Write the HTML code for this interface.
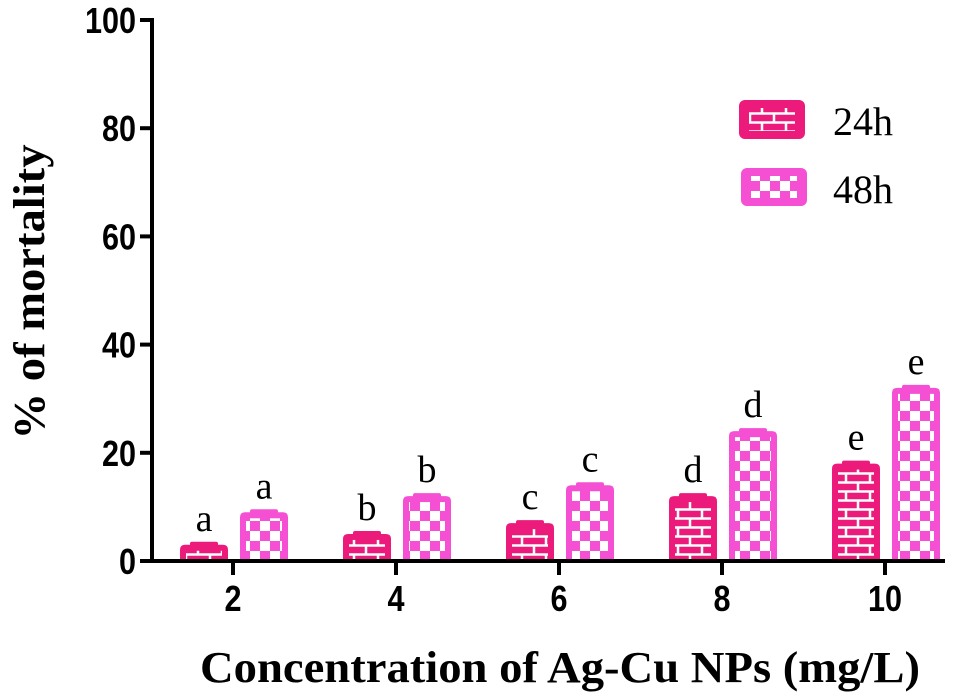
<!DOCTYPE html>
<html><head><meta charset="utf-8"><style>
html,body{margin:0;padding:0;background:#fff;}
svg{display:block;}
</style></head><body>
<svg id="chart" width="975" height="700" viewBox="0 0 975 700" xmlns="http://www.w3.org/2000/svg">
<defs>
<pattern id="brick" patternUnits="userSpaceOnUse" width="24" height="18" x="0" y="561">
<rect width="24" height="18" fill="#ec1a7b"/>
<path d="M0 2.5H24M0 11.5H24M6 2.5V11.5M18 11.5V18M18 0V2.5" stroke="#fff" stroke-width="2.5" fill="none"/>
</pattern>
<pattern id="checker" patternUnits="userSpaceOnUse" width="20" height="20" x="0" y="561">
<rect width="20" height="20" fill="#f550d4"/>
<rect x="0" y="0" width="10" height="10" fill="#fff"/>
<rect x="10" y="10" width="10" height="10" fill="#fff"/>
</pattern>
</defs>
<g id="plot"></g>
<g>
<rect x="739" y="100" width="66" height="39" rx="6" fill="#ec1a7b"/>
<rect x="749" y="108" width="46" height="23" fill="url(#brick)"/>
<text x="833" y="135" font-family="Liberation Serif, serif" font-size="40">24h</text>
<rect x="741" y="168" width="66" height="38" rx="6" fill="#f550d4"/>
<rect x="751" y="176" width="46" height="22" fill="url(#checker)"/>
<text x="833" y="203" font-family="Liberation Serif, serif" font-size="40">48h</text>
</g>
<text x="200" y="682" textLength="720" lengthAdjust="spacingAndGlyphs" font-family="Liberation Serif, serif" font-weight="bold" font-size="44">Concentration of  Ag-Cu NPs (mg/L)</text>
<text transform="translate(44,292) rotate(-90)" text-anchor="middle" textLength="295" lengthAdjust="spacingAndGlyphs" font-family="Liberation Serif, serif" font-weight="bold" font-size="44">% of mortality</text>
</svg>
<script>
const categories = ["2","4","6","8","10"];
const values24 = [3,5,7,12,18];
const values48 = [9,12,14,24,32];
const letters24 = ["a","b","c","d","e"];
const letters48 = ["a","b","c","d","e"];
const yTicks = [0,20,40,60,80,100];

const NS="http://www.w3.org/2000/svg";
const g=document.getElementById('plot');
const y0=561, yTop=20, xAxis0=152;
const yScale=v=>y0-(v/100)*(y0-yTop);
const xScale=i=>233+i*163;
function el(tag,attrs,parent){const e=document.createElementNS(NS,tag);for(const k in attrs)e.setAttribute(k,attrs[k]);(parent||g).appendChild(e);return e;}

yTicks.forEach(t=>{
  const y=yScale(t);
  const l=el('line',{x1:xAxis0-12,x2:xAxis0,y1:y,y2:y,stroke:'#000','stroke-width':4});
  
  
  const tx=el('text',{transform:`translate(${xAxis0-16},${y+13}) scale(0.85,1)`,'text-anchor':'end','font-family':'Liberation Sans, sans-serif','font-weight':'bold','font-size':36});
  tx.textContent=t;
  
  
});

const bw=48;
function bar(i,v,off,fill,col,letter,name){
  const x=xScale(i)+off-bw/2, y=yScale(v);
  const b=el('path',{d:`M${x} ${y0}V${y+5}Q${x} ${y} ${x+5} ${y}H${x+bw-5}Q${x+bw} ${y} ${x+bw} ${y+5}V${y0}Z`,fill:col});
  
  
  el('rect',{x:x+6,y:y+6,width:bw-12,height:Math.max(0,y0-y-6),fill:fill});
  const c=el('rect',{x:x+10,y:y-3,width:bw-20,height:5,rx:2,fill:col});
  
  
  const t=el('text',{x:x+bw/2,y:y-14,'text-anchor':'middle','font-family':'Liberation Serif, serif','font-size':38});
  t.textContent=letter;
  
  
}
categories.forEach((c,i)=>{
  bar(i,values24[i],-29,'url(#brick)','#ec1a7b',letters24[i],'bar-24h-'+c);
  bar(i,values48[i],31,'url(#checker)','#f550d4',letters48[i],'bar-48h-'+c);
  const x=xScale(i);
  const tk=el('line',{x1:x,x2:x,y1:y0,y2:y0+14,stroke:'#000','stroke-width':4});
  
  
  const tx=el('text',{transform:`translate(${x},${611}) scale(0.85,1)`,'text-anchor':'middle','font-family':'Liberation Sans, sans-serif','font-weight':'bold','font-size':36});
  tx.textContent=c;
  
  
});
const ya=el('line',{x1:xAxis0,x2:xAxis0,y1:yTop-2,y2:y0+2,stroke:'#000','stroke-width':4});


const xa=el('line',{x1:xAxis0-2,x2:945,y1:y0,y2:y0,stroke:'#000','stroke-width':4});


</script>
</body></html>
